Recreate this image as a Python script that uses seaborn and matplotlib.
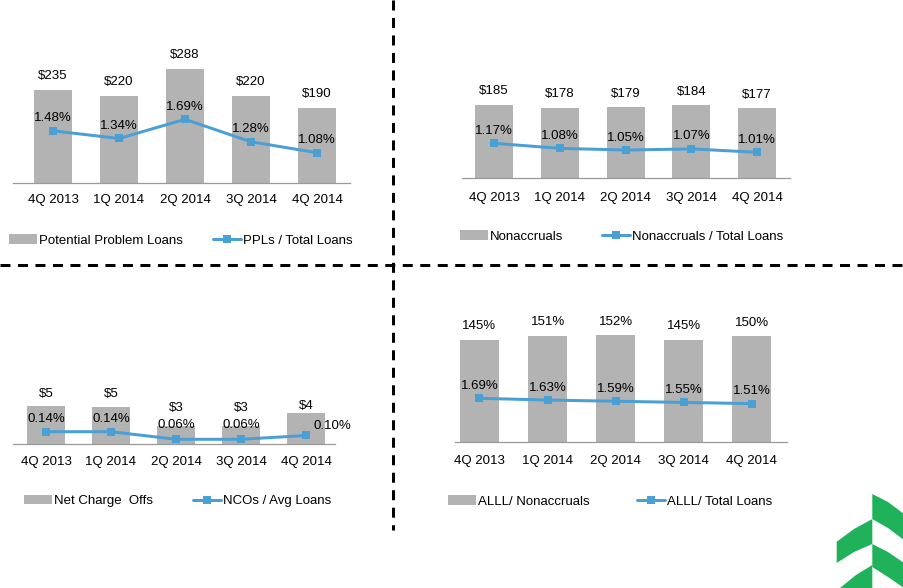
import numpy as np
import pandas as pd
import matplotlib
matplotlib.use("Agg")
import matplotlib.pyplot as plt
import seaborn as sns
from matplotlib.patches import Patch, Polygon
from matplotlib.lines import Line2D

# ---------------- data ----------------
quarters = ['4Q 2013', '1Q 2014', '2Q 2014', '3Q 2014', '4Q 2014']

ppl_values = [235, 220, 288, 220, 190]
ppl_labels = ['$235', '$220', '$288', '$220', '$190']
ppl_ratio = [1.48, 1.34, 1.69, 1.28, 1.08]

nonaccrual_values = [185, 178, 179, 184, 177]
nonaccrual_labels = ['$185', '$178', '$179', '$184', '$177']
nonaccrual_ratio = [1.17, 1.08, 1.05, 1.07, 1.01]

nco_values = [5.3, 5.1, 2.5, 2.5, 4.3]
nco_labels = ['$5', '$5', '$3', '$3', '$4']
nco_ratio = [0.14, 0.14, 0.06, 0.06, 0.10]

alll_nonaccrual = [145, 151, 152, 145, 150]
alll_labels = ['145%', '151%', '152%', '145%', '150%']
alll_ratio = [1.69, 1.63, 1.59, 1.55, 1.51]

# ---------------- style ----------------
sns.set_theme(style="white")
plt.rcParams['font.family'] = ['Liberation Sans', 'DejaVu Sans']

W, H = 904, 588
BAR = '#B3B3B3'
LINE = '#4A9FD5'
FS = 9.5
PX = 72 / 100  # points per pixel

fig = plt.figure(figsize=(W / 100, H / 100), dpi=100)


def fx(x):
    return x / W


def fy(y):
    return 1 - y / H


panels = [
    dict(vals=ppl_values, vlab=ppl_labels, ratio=ppl_ratio,
         left=13, right=350, base=182.7, top=40, c0=53, sp=66, bw=0.576,
         ymax=361.3, tw=(0.532, 3.14), pad=8,
         leg_bar='Potential Problem Loans', leg_line='PPLs / Total Loans',
         leg_y=240.5, leg_x=(9, 213)),
    dict(vals=nonaccrual_values, vlab=nonaccrual_labels, ratio=nonaccrual_ratio,
         left=462, right=790, base=178, top=40, c0=494, sp=65.8, bw=0.578,
         ymax=349.4, tw=(0.553, 3.006), pad=10,
         leg_bar='Nonaccruals', leg_line='Nonaccruals / Total Loans',
         leg_y=236.5, leg_x=(460, 602)),
    dict(vals=nco_values, vlab=nco_labels, ratio=nco_ratio,
         left=13, right=335, base=444, top=300, c0=46, sp=65, bw=0.585,
         ymax=20.0, tw=(0.0105, 1.526), pad=8.5,
         leg_bar='Net Charge  Offs', leg_line='NCOs / Avg Loans',
         leg_y=501, leg_x=(24, 193),
         voff=[12, 13, 17.7, 17.7, 7]),
    dict(vals=alll_nonaccrual, vlab=alll_labels, ratio=alll_ratio,
         left=455, right=787, base=442.3, top=300, c0=479.5, sp=68.1, bw=0.573,
         ymax=201.6, tw=(0.203, 5.01), pad=9.3,
         leg_bar='ALLL/ Nonaccruals', leg_line='ALLL/ Total Loans',
         leg_y=501.5, leg_x=(448, 637)),
]

for pi, p in enumerate(panels):
    ax = fig.add_axes([fx(p['left']), fy(p['base']),
                       (p['right'] - p['left']) / W, (p['base'] - p['top']) / H])
    df = pd.DataFrame({'q': quarters, 'v': p['vals'], 'r': p['ratio']})
    sns.barplot(data=df, x='q', y='v', ax=ax, color=BAR, width=p['bw'],
                saturation=1, edgecolor='none')
    ax.set_xlim(-(p['c0'] - p['left']) / p['sp'], (p['right'] - p['c0']) / p['sp'])
    ax.set_ylim(0, p['ymax'])
    ax.set_xlabel('')
    ax.set_ylabel('')
    ax.set_yticks([])
    ax.set_xticks(range(len(quarters)))
    ax.set_xticklabels(quarters, fontsize=FS, color='black')
    ax.tick_params(axis='x', length=0, pad=p['pad'])
    for s in ['top', 'left', 'right']:
        ax.spines[s].set_visible(False)
    ax.spines['bottom'].set_color('#9A9A9A')
    ax.spines['bottom'].set_linewidth(0.9)
    ax.patch.set_alpha(0)

    voff = p.get('voff', [13.5] * 5)
    for i, (v, lab) in enumerate(zip(p['vals'], p['vlab'])):
        ax.annotate(lab, (i, v), xytext=(0, voff[i] * PX), textcoords='offset points',
                    ha='center', va='center', fontsize=FS, color='black')

    tx = ax.twinx()
    sns.lineplot(x=np.arange(len(quarters)), y=p['ratio'], ax=tx, color=LINE,
                 linewidth=3 * PX, marker='s', markersize=8 * PX,
                 markeredgewidth=0, markerfacecolor=LINE)
    tx.set_ylim(*p['tw'])
    tx.set_yticks([])
    tx.set_ylabel('')
    for s in ['top', 'left', 'right', 'bottom']:
        tx.spines[s].set_visible(False)
    for i, r in enumerate(p['ratio']):
        if pi == 2 and i == 4:
            tx.annotate(f'{r:.2f}%', (i, r), xytext=(8 * PX, 9 * PX),
                        textcoords='offset points', ha='left', va='center',
                        fontsize=FS, color='black')
        else:
            off = 14.5 if (pi == 2 and i in (2, 3)) else 12.5
            tx.annotate(f'{r:.2f}%', (i, r), xytext=(0, off * PX),
                        textcoords='offset points', ha='center', va='center',
                        fontsize=FS, color='black')

    # legends
    h_bar = Patch(facecolor=BAR, edgecolor='none', label=p['leg_bar'])
    h_line = Line2D([], [], color=LINE, lw=3 * PX, marker='s', markersize=8 * PX,
                    markeredgewidth=0, label=p['leg_line'])
    for h, xl in zip([h_bar, h_line], p['leg_x']):
        fig.legend(handles=[h], loc='center left',
                   bbox_to_anchor=(fx(xl), fy(p['leg_y'])),
                   bbox_transform=fig.transFigure, frameon=False,
                   borderpad=0, borderaxespad=0, handlelength=2.13,
                   handletextpad=0.12, fontsize=FS, labelcolor='black')

# dashed dividers
dash = (0, (3.33, 2.5))
fig.add_artist(Line2D([fx(393.5), fx(393.5)], [fy(0), fy(530)],
                      transform=fig.transFigure, color='black',
                      lw=3 * PX, linestyle=dash))
fig.add_artist(Line2D([fx(0), fx(904)], [fy(265), fy(265)],
                      transform=fig.transFigure, color='black',
                      lw=3 * PX, linestyle=dash))

# logo (decorative chevrons)
GREEN = '#1FB25A'
logo_shapes = [
    [(872.3, 494), (888, 502), (904, 514), (904, 540), (888, 528), (872.3, 519)],
    [(872.3, 519), (854, 529), (836.7, 541.7), (836.7, 563), (854, 552), (872.3, 544)],
    [(872.3, 544), (888, 552), (904, 563), (904, 588), (888, 577), (872.3, 567)],
    [(872.3, 565), (856, 575), (840, 588), (872.3, 588)],
]
for shp in logo_shapes:
    fig.add_artist(Polygon([(fx(x), fy(y)) for x, y in shp], closed=True,
                           transform=fig.transFigure, facecolor=GREEN,
                           edgecolor='none'))

fig.savefig('out.png', dpi=100)
